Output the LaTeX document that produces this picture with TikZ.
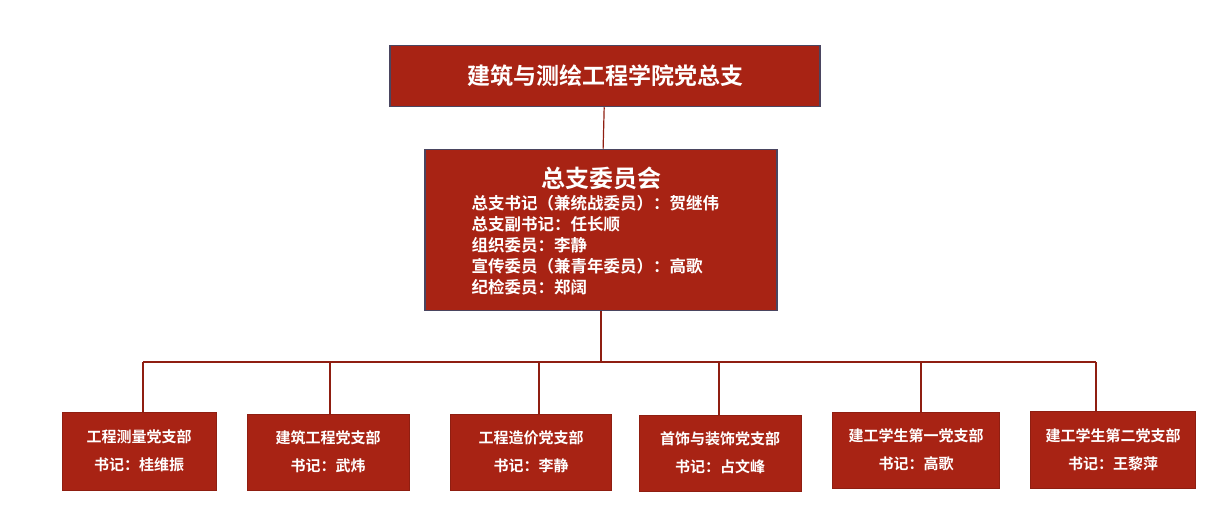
\documentclass[tikz,border=0pt]{standalone}
\usepackage{fontspec}
\setmainfont{Noto Sans CJK SC}[BoldFont={* Bold}]
\definecolor{dangred}{HTML}{A82314}
\definecolor{edgegray}{HTML}{4A4560}
\tikzset{
	topbox/.style={draw=edgegray,fill=dangred,line width=1.5pt,text=white,font=\bfseries},
	branch/.style={draw=dangred!85!black,fill=dangred,line width=1pt,text=white,font=\bfseries\fontsize{15}{28}\selectfont,align=center},
	link/.style={color=dangred!85!black,line width=1.2pt}
}
\begin{document}
\begin{tikzpicture}[x=1pt,y=-1pt]
	\useasboundingbox (0,0) rectangle (1228,514);
	\node[topbox,minimum width=430,minimum height=61,font=\bfseries\fontsize{23}{26}\selectfont] (zongzhi) at (605,76) {建筑与测绘工程学院党总支};
	\node[topbox,minimum width=352,minimum height=161] (weiyuan) at (601,230) {};
	\node[text=white,font=\bfseries\fontsize{24}{26}\selectfont] (wyhead) at (601,178) {总支委员会};
	\node[text=white,anchor=west,align=left,font=\bfseries\fontsize{16.5}{21}\selectfont] (wylist) at (468,245) {总支书记（兼统战委员）：贺继伟\\总支副书记：任长顺\\组织委员：李静\\宣传委员（兼青年委员）：高歌\\纪检委员：郑阔};
	\node[branch,minimum width=154,minimum height=78] (b1) at (139,451) {工程测量党支部\\书记：桂维振};
	\node[branch,minimum width=162,minimum height=76] (b2) at (328,452) {建筑工程党支部\\书记：武炜};
	\node[branch,minimum width=161,minimum height=76] (b3) at (531,452) {工程造价党支部\\书记：李静};
	\node[branch,minimum width=162,minimum height=76] (b4) at (720,453) {首饰与装饰党支部\\书记：占文峰};
	\node[branch,minimum width=167,minimum height=76] (b5) at (916,450) {建工学生第一党支部\\书记：高歌};
	\node[branch,minimum width=165,minimum height=77] (b6) at (1113,450) {建工学生第二党支部\\书记：王黎萍};
	\coordinate (busl) at (143,362);
	\coordinate (busr) at (1096,362);
	\coordinate (busm) at (601,362);
	\draw[link] (zongzhi) -- (weiyuan);
	\draw[link] (weiyuan) -- (busm);
	\draw[link] (busl) -- (busr);
	\foreach \b/\x in {b1/143,b2/330,b3/539,b4/719,b5/921,b6/1096}
		\draw[link] (\x,362) -- (\b.north -| \x,0);
\end{tikzpicture}
\end{document}
